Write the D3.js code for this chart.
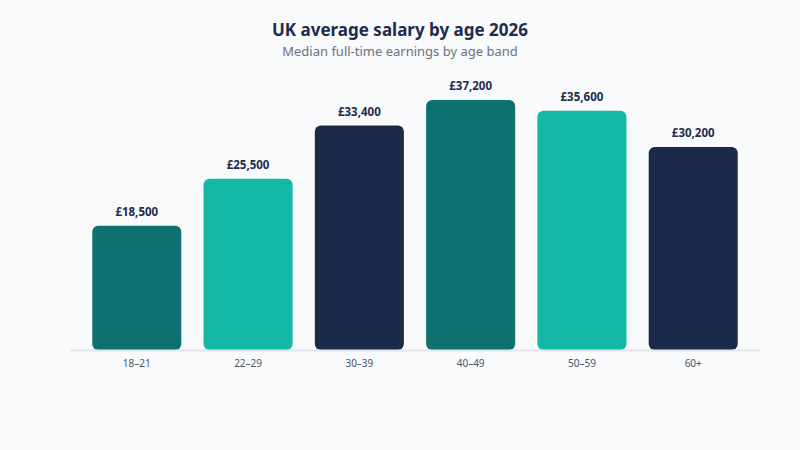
<!DOCTYPE html>
<html>
<head>
<meta charset="utf-8">
<script src="https://cdn.jsdelivr.net/npm/d3@7"></script>
<style>
  body { margin: 0; background: #f8fafc; }
  svg { font-family: "Noto Sans", sans-serif; display: block; }
</style>
</head>
<body>
<svg id="chart" width="800" height="450"></svg>
<script>
// age bands and median salaries
let ageBands = ["18–21", "22–29", "30–39", "40–49", "50–59", "60+"];
let salaries = [18500, 25500, 33400, 37200, 35600, 30200];
let barColors = ["#0e7070", "#14b8a6", "#1b2a4a", "#0e7070", "#14b8a6", "#1b2a4a"];

let svg = d3.select("svg#chart");
let width = svg.attr("width");
let height = svg.attr("height");

let margin = {top: 70, right: 40, bottom: 100, left: 70};
let chartWidth = width - margin.left - margin.right;
let chartHeight = height - margin.top - margin.bottom;

svg.append("rect").attr("width", width).attr("height", height).attr("fill", "#f8fafc");

svg.append("text")
   .attr("x", width / 2).attr("y", 36)
   .attr("text-anchor", "middle")
   .attr("font-size", 17).attr("font-weight", "bold")
   .attr("fill", "#1e2b4d")
   .text("UK average salary by age 2026");

svg.append("text")
   .attr("x", width / 2).attr("y", 56)
   .attr("text-anchor", "middle")
   .attr("font-size", 13)
   .attr("fill", "#6b7280")
   .text("Median full-time earnings by age band");

const xScale = d3.scaleBand().domain(ageBands).range([0, chartWidth]).padding(0.2);
const yScale = d3.scaleLinear().domain([0, d3.max(salaries) * 1.12]).range([chartHeight, 0]);

let chartArea = svg.append("g")
                   .attr("transform", `translate(${margin.left},${margin.top})`);

let data = ageBands.map((b, i) => ({band: b, value: salaries[i], color: barColors[i]}));

chartArea.selectAll("rect.bar")
         .data(data)
         .join("rect")
         .attr("class", "bar")
         .attr("x", d => xScale(d.band))
         .attr("y", d => yScale(d.value))
         .attr("width", xScale.bandwidth())
         .attr("height", d => chartHeight - yScale(d.value))
         .attr("rx", 6)
         .attr("fill", d => d.color);

chartArea.selectAll("text.value")
         .data(data)
         .join("text")
         .attr("class", "value")
         .attr("x", d => xScale(d.band) + xScale.bandwidth() / 2)
         .attr("y", d => yScale(d.value) - 10)
         .attr("text-anchor", "middle")
         .attr("font-size", 11.5).attr("font-weight", "bold")
         .attr("fill", "#1e2b4d")
         .text(d => "£" + d3.format(",")(d.value));

let bottomAxis = d3.axisBottom(xScale).tickSize(0).tickPadding(10);
let axisG = chartArea.append("g")
                     .attr("transform", `translate(0,${chartHeight})`)
                     .call(bottomAxis);
axisG.select(".domain").attr("stroke", "#e2e5ea").attr("stroke-width", 2);
axisG.selectAll("text").attr("font-size", 10).attr("fill", "#4b5563")
     .attr("font-family", "Noto Sans, sans-serif");
</script>
</body>
</html>
